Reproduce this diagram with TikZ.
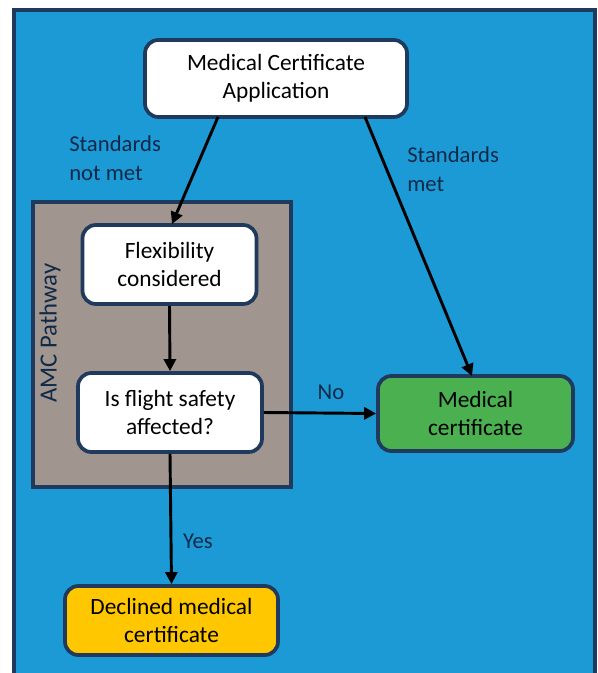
\documentclass[tikz,border=0pt]{standalone}
\usepackage{fontspec}
\setmainfont{Carlito}
\usetikzlibrary{arrows.meta}
\definecolor{bgblue}{HTML}{1C9AD6}
\definecolor{navy}{HTML}{1F3A5C}
\definecolor{taupe}{HTML}{A0958F}
\definecolor{okgreen}{HTML}{4BB050}
\definecolor{declyellow}{HTML}{FFC700}
\definecolor{labtext}{HTML}{0F2A48}
\tikzset{
  box/.style={draw=navy, line width=2.8pt, rounded corners=10pt, align=center,
    font=\fontsize{17.5}{21}\selectfont, text=black, inner sep=0pt},
  conn/.style={-{Triangle[length=9pt,width=9pt]}, line width=2.2pt, black},
  lab/.style={font=\fontsize{17}{22}\selectfont, text=labtext, align=left, inner sep=0pt}
}
\begin{document}
\begin{tikzpicture}[x=0.75pt,y=-0.75pt]
\useasboundingbox (0,0) rectangle (598,673);
\fill[white] (0,0) rectangle (598,673);
\draw[draw=navy, line width=3pt, fill=bgblue] (14,10) -- (14,680) -- (595,680) -- (595,10) -- cycle;
\node[draw=navy, line width=2.8pt, fill=taupe, minimum width=258*0.75pt, minimum height=285*0.75pt, inner sep=0pt] (amc) at (162,344.5) {};
\node[rotate=90, font=\fontsize{18.5}{20}\selectfont, text=labtext] (amclab) at (50,333) {AMC Pathway};
\node[box, fill=white, minimum width=262*0.75pt, minimum height=77*0.75pt] (app) at (276,78.5) {Medical Certificate\\Application};
\node[box, fill=white, minimum width=174*0.75pt, minimum height=79*0.75pt] (flex) at (169.5,264.5) {Flexibility\\considered};
\node[box, fill=white, minimum width=184*0.75pt, minimum height=79*0.75pt] (safe) at (170,412.5) {Is flight safety\\affected?};
\node[box, fill=okgreen, minimum width=195*0.75pt, minimum height=75*0.75pt] (med) at (475.5,413.5) {Medical\\certificate};
\node[box, fill=declyellow, minimum width=213*0.75pt, minimum height=69*0.75pt] (decl) at (171.5,620.5) {Declined medical\\certificate};
\coordinate (a1) at (218,117);
\coordinate (a2) at (365,117);
\draw[conn] (a1) -- (172,224) coordinate (f1);
\draw[conn] (a2) -- (472,376);
\draw[conn] (flex.south) -- (safe.north);
\draw[conn] (safe.east) -- (med.west);
\draw[conn] (safe.south) -- (decl.north);
\node[lab, anchor=north west] (snm) at (69,135) {Standards\\not met};
\node[lab, anchor=north west] (sm) at (407,146) {Standards\\met};
\node[lab] (no) at (331,392) {No};
\node[lab] (yes) at (198,541) {Yes};
\end{tikzpicture}
\end{document}
